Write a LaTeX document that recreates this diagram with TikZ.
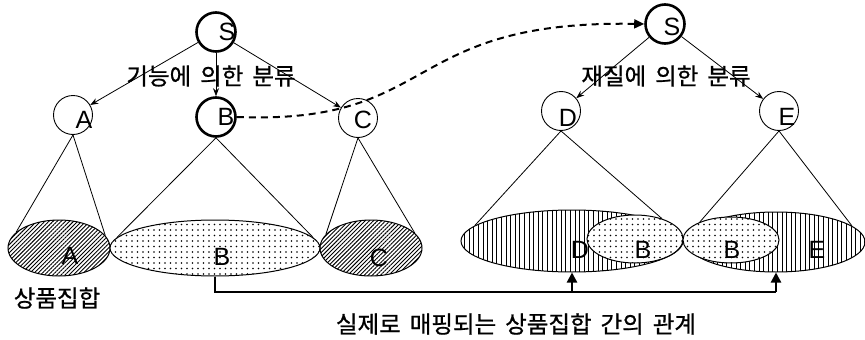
\documentclass[tikz,border=0pt]{standalone}
\usepackage{fontspec}
\setmainfont{Liberation Sans}
\newfontfamily\kr[WordSpace=1.7, FakeBold=0.8]{Noto Sans CJK KR}
\usepackage{tikz}
\usetikzlibrary{arrows.meta,shapes.geometric,patterns.meta,calc}

\begin{document}
\begin{tikzpicture}[x=1pt, y=-1pt,
    cls/.style={draw, circle, minimum size=39pt, inner sep=0pt, line width=0.9pt},
    root/.style={cls, line width=2.6pt},
    lbl/.style={font=\fontsize{25}{27}\selectfont, inner sep=0pt},
    krtext/.style={font=\kr\fontsize{23.5}{26}\selectfont, inner sep=0pt},
    set/.style={draw, ellipse, inner sep=0pt, line width=1pt},
    hatched/.style={set, pattern={Lines[angle=45, distance=2.9pt, line width=0.9pt]}},
    striped/.style={set, pattern={Lines[angle=90, distance=4.6pt, line width=1pt]}},
    dotted set/.style={set, preaction={fill=white}, pattern={Dots[distance=5.5pt, radius=0.9pt]}},
    edge/.style={-{Stealth[length=8pt, width=6pt]}, line width=0.8pt},
    cone/.style={line width=0.8pt},
    map/.style={line width=2pt, dash pattern=on 7pt off 5pt, -{Triangle[length=10pt, width=9pt]}},
    link/.style={line width=2.2pt}]
    \useasboundingbox (0,0) rectangle (865,340);

    % Function-based tree
    \node[root, label={[lbl, xshift=11pt]center:S}] (s1) at (216,32) {};
    \node[cls, label={[lbl, xshift=11pt, yshift=-5pt]center:A}] (a) at (73,115) {};
    \node[root, label={[lbl, xshift=10pt]center:B}] (b) at (216,117) {};
    \node[cls, label={[lbl, xshift=5pt, yshift=-2pt]center:C}] (c) at (358,118) {};
    \draw[edge] (s1) -- (a);
    \draw[edge] (s1) -- (b);
    \draw[edge] (s1) -- (c);
    \node[krtext] (fnlabel) at (211,76) {기능에 의한 분류};

    % Product sets of the first tree
    \node[hatched, minimum width=102pt, minimum height=56pt] (setA) at (59,248) {};
    \node[dotted set, minimum width=210pt, minimum height=56pt] (setB) at (215,248) {};
    \node[hatched, minimum width=102pt, minimum height=56pt] (setC) at (371,248) {};
    \node[lbl] (txtA) at (70,256) {A};
    \node[lbl] (txtB) at (222,257) {B};
    \node[lbl] (txtC) at (379,258) {C};
    \draw[cone] (a.south) -- (setA.160);
    \draw[cone] (a.south) -- (setA.15);
    \draw[cone] (b.south) -- (setB.174);
    \draw[cone] (b.south) -- (setB.6);
    \draw[cone] (c.south) -- (setC.163);
    \draw[cone] (c.south) -- (setC.19);
    \node[krtext] (goods) at (57,298) {상품집합};

    % Material-based tree
    \node[root, label={[lbl, xshift=7pt, yshift=-3pt]center:S}] (s2) at (665,24) {};
    \node[cls, label={[lbl, xshift=7pt, yshift=-7pt]center:D}] (d) at (561,111) {};
    \node[cls, label={[lbl, xshift=8pt, yshift=-6pt]center:E}] (e) at (779,111) {};
    \draw[edge] (s2) -- (d);
    \draw[edge] (s2) -- (e);
    \node[krtext] (mtlabel) at (666,76) {재질에 의한 분류};

    % Product sets of the second tree
    \node[striped, minimum width=222pt, minimum height=62pt] (setD) at (572,241) {};
    \node[striped, minimum width=178pt, minimum height=60pt] (setE) at (776,242) {};
    \node[dotted set, minimum width=96pt, minimum height=48pt] (subD) at (635,239) {};
    \node[dotted set, minimum width=96pt, minimum height=46pt] (subE) at (731,240) {};
    \node[lbl] (txtD) at (580,250) {D};
    \node[lbl] (txtDB) at (643,250) {B};
    \node[lbl] (txtEB) at (732,250) {B};
    \node[lbl] (txtE) at (817,250) {E};
    \draw[cone] (d.south) -- (setD.171);
    \draw[cone] (d.south) -- (subD.37);
    \draw[cone] (e.south) -- (subE.150);
    \draw[cone] (e.south) -- (setE.12);

    % Mapping between the two trees
    \draw[map] (b.east) .. controls (440,125) and (400,20) .. (s2.west);
    \coordinate (base) at (215,292);
    \draw[link] (setB.south) -- (base) -- (base -| setE.south);
    \draw[link, -{Triangle[length=10pt, width=10pt]}] (base -| setD.south) -- (setD.south);
    \draw[link, -{Triangle[length=10pt, width=10pt]}] (base -| setE.south) -- (setE.south);
    \node[krtext] (relation) at (516,324) {실제로 매핑되는 상품집합 간의 관계};
\end{tikzpicture}
\end{document}
